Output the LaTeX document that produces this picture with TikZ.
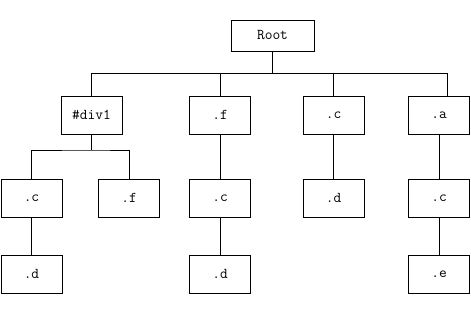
\documentclass[tikz,border=0pt]{standalone}
\usepackage{tikz}
\usetikzlibrary{positioning,calc}

\begin{document}
\begin{tikzpicture}[x=1pt,y=-1pt,font=\fontsize{15}{17}\ttfamily,line width=0.9pt]
  \tikzstyle{sel}=[draw,minimum width=61pt,minimum height=38pt,inner sep=0pt,fill=white]
  \useasboundingbox (0,0) rectangle (471,314);
  % Root
  \node[sel,minimum width=83pt,minimum height=31pt] (root) at (272.5,35.5) {Root};
  % first level
  \node[sel] (div) at (91.5,115) {\#div1};
  \node[sel] (f)   at (220,115)  {.f};
  \node[sel] (c)   at (333.5,115) {.c};
  \node[sel] (a)   at (439,115)  {.a};
  % second level
  \node[sel] (divc) at (31.5,198) {.c};
  \node[sel] (divf) at (129,198)  {.f};
  \node[sel] (fc)   at (220,198)  {.c};
  \node[sel] (cd)   at (333.5,198) {.d};
  \node[sel] (ac)   at (439,198)  {.c};
  % third level
  \node[sel] (divcd) at (31.5,274) {.d};
  \node[sel] (fcd)   at (220,274)  {.d};
  \node[sel] (ace)   at (439,274)  {.e};
  % Edges
  \coordinate (bus) at (272.5,73);
  \coordinate (aup) at ($(a.north)+(8,0)$);
  \draw (root.south) -- (bus);
  \draw (div.north) |- (aup |- bus) -- (aup);
  \draw (f.north) -- (f.north |- bus);
  \draw (c.north) -- (c.north |- bus);
  \coordinate (divbus) at (91.5,150);
  \draw (div.south) -- (divbus);
  \draw (divc.north) |- (divbus) -| (divf.north);
  \draw (f.south) -- (fc.north);
  \draw (c.south) -- (cd.north);
  \draw (a.south) -- (ac.north);
  \draw (divc.south) -- (divcd.north);
  \draw (fc.south) -- (fcd.north);
  \draw (ac.south) -- (ace.north);
\end{tikzpicture}
\end{document}
